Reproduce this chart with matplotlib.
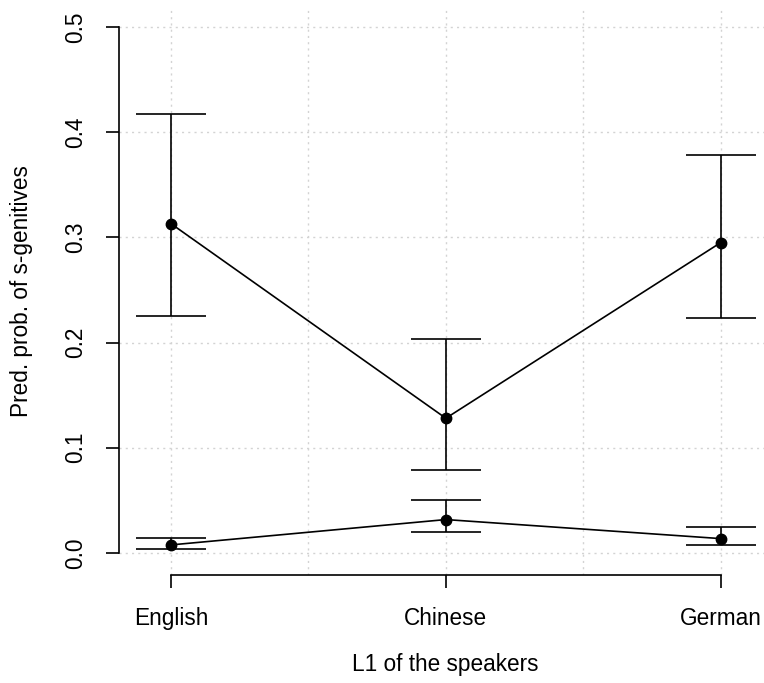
import numpy as np
import matplotlib
matplotlib.use("Agg")
import matplotlib.pyplot as plt

# L1 groups and predicted probabilities (two series) with CIs
groups = ["English", "Chinese", "German"]
upper_fit = [0.313, 0.128, 0.295]
upper_lo = [0.225, 0.079, 0.223]
upper_hi = [0.417, 0.203, 0.378]
lower_fit = [0.0076, 0.0317, 0.0136]
lower_lo = [0.0035, 0.020, 0.0079]
lower_hi = [0.0143, 0.0502, 0.0248]

plt.rcParams["font.family"] = ["Liberation Sans", "DejaVu Sans"]
FS = 16.3

W, H = 764, 683
fig = plt.figure(figsize=(W / 100, H / 100), dpi=100)
left, right, top, bottom = 119, 772.7, 8, 575
ax = fig.add_axes([left / W, 1 - bottom / H, (right - left) / W, (bottom - top) / H])

x = np.arange(1, len(groups) + 1)

def draw(fit, lo, hi):
    fit = np.array(fit)
    err = np.vstack([fit - np.array(lo), np.array(hi) - fit])
    ax.errorbar(x, fit, yerr=err, fmt="none", ecolor="black", elinewidth=1.2,
                capsize=25, capthick=1.2, zorder=3)
    ax.plot(x, fit, color="black", lw=1.2, marker="o", ms=7.5, zorder=4)

draw(upper_fit, upper_lo, upper_hi)
draw(lower_fit, lower_lo, lower_hi)

ax.set_xlim(0.811, 3.189)
ax.set_ylim(-0.021, 0.518)

# dotted light grey grid as in R's grid()
for gx in np.arange(1, 3.01, 0.5):
    ax.axvline(gx, color="#d3d3d3", lw=1, ls=(0, (1.5, 3)), zorder=1)
for gy in np.arange(0, 0.51, 0.1):
    ax.axhline(gy, color="#d3d3d3", lw=1, ls=(0, (1.5, 3)), zorder=1)

for s in ["top", "right"]:
    ax.spines[s].set_visible(False)
ax.spines["left"].set_bounds(0, 0.5)
ax.spines["bottom"].set_bounds(1, 3)
for s in ["left", "bottom"]:
    ax.spines[s].set_linewidth(1.2)

ax.set_xticks(x)
ax.set_xticklabels(groups)
ax.set_yticks(np.arange(0, 0.51, 0.1))
ax.set_yticklabels(["0.0", "0.1", "0.2", "0.3", "0.4", "0.5"], rotation=90, va="center")
ax.tick_params(axis="both", direction="out", length=9.5, width=1.2, labelsize=FS)
ax.tick_params(axis="x", pad=13.5)
ax.tick_params(axis="y", pad=13.5)

fig.text(445 / W, 1 - 664 / H, "L1 of the speakers", ha="center", va="center", fontsize=FS)
fig.text(22 / W, 1 - 291 / H, "Pred. prob. of s-genitives", ha="center", va="center",
         rotation=90, fontsize=FS)

fig.savefig("out.png", dpi=100)
